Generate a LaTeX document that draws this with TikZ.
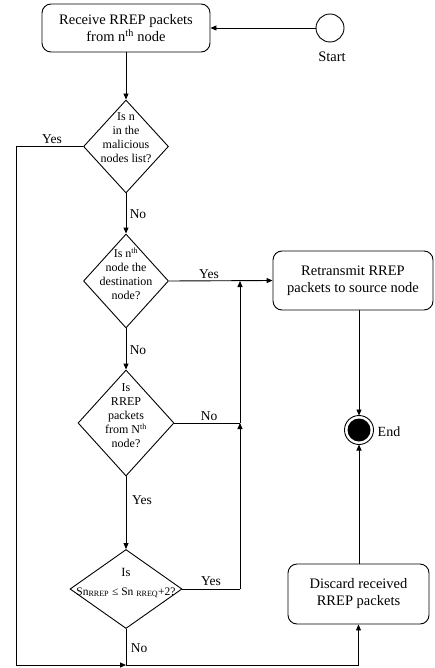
\documentclass[tikz,border=0pt]{standalone}
\usepackage{fontspec}
\setmainfont{Liberation Serif}
\usetikzlibrary{shapes.geometric,arrows.meta}
\begin{document}
\begin{tikzpicture}[x=1pt,y=-1pt,
  line width=0.9pt,
  arr/.style={-{Triangle[length=6pt,width=5pt]}},
  procbox/.style={draw,rounded corners=9pt,align=center,inner sep=0pt,
    font=\fontsize{14.5}{17}\selectfont},
  dia/.style={draw,diamond,inner sep=0pt},
  dtext/.style={align=center,inner sep=0pt,font=\fontsize{12}{14}\selectfont},
  lbl/.style={inner sep=0pt,font=\fontsize{13.5}{15}\selectfont}]
\useasboundingbox (0,0) rectangle (434,668);

% process boxes
\node[procbox,minimum width=168pt,minimum height=48pt] (recv) at (126,28)
  {Receive RREP packets\\from n\textsuperscript{th} node};
\node[procbox,minimum width=160pt,minimum height=59pt] (ret) at (353,280.5)
  {Retransmit RREP\\packets to source node};
\node[procbox,minimum width=141pt,minimum height=60pt] (disc) at (358.5,594)
  {Discard received\\RREP packets};

% start / end
\node[draw,circle,minimum size=28pt,inner sep=0pt] (start) at (330,28) {};
\node[lbl,font=\fontsize{14.5}{16}\selectfont] (startl) at (332,57) {Start};
\node[draw,circle,minimum size=29pt,inner sep=0pt] (end) at (359,430) {};
\node[circle,fill=black,minimum size=23pt,inner sep=0pt] (endin) at (359,430) {};
\node[lbl,font=\fontsize{14}{16}\selectfont] (endl) at (389,432) {End};

% decisions
\node[dia,minimum width=85pt,minimum height=93pt] (d1) at (126,146.5) {};
\node[dtext] (d1t) at (126,138) {Is n\\in the\\malicious\\nodes list?};
\node[dia,minimum width=85pt,minimum height=94pt] (d2) at (126,281) {};
\node[dtext] (d2t) at (126,274) {Is n\textsuperscript{th}\\node the\\destination\\node?};
\node[dia,minimum width=96pt,minimum height=106pt] (d3) at (126,423) {};
\node[dtext] (d3t) at (126,416) {Is\\RREP\\packets\\from N\textsuperscript{th}\\node?};
\node[dia,minimum width=112pt,minimum height=79pt] (d4) at (126,589) {};
\node[dtext,font=\fontsize{12.5}{19}\selectfont] (d4t) at (126,583)
  {Is\\{\fontsize{11.5}{12}\selectfont Sn\textsubscript{RREP} ≤ Sn \textsubscript{RREQ}+2?}};

% helper coordinates
\coordinate (lft) at (16,665);
\coordinate (j) at (126,665);
\coordinate (jr) at (358.5,665);
\coordinate (m2) at (240,281);
\coordinate (m3) at (240,423);
\coordinate (m4) at (240,589);
\coordinate (rb) at (359,310);
\coordinate (et) at (359,415.5);
\coordinate (eb) at (359,444.5);
\coordinate (dt) at (359,564);

% connectors
\draw[arr] (start.west) -- (recv.east);
\draw[arr] (recv.south) -- (d1.north);
\draw[arr] (d1.west) -| (lft) -- (j);
\draw[arr] (d1.south) -- (d2.north);
\draw[arr] (d2.east) -- (ret.west);
\draw[arr] (d2.south) -- (d3.north);
\draw (d3.east) -- (m3);
\draw[arr] (m3) -- (m2);
\draw[arr] (d3.south) -- (d4.north);
\draw (d4.east) -- (m4);
\draw[arr] (m4) -- (m3);
\draw (d4.south) -- (j);
\draw[arr] (j) -- (jr) -- (disc.south);
\draw[arr] (rb) -- (et);
\draw[arr] (dt) -- (eb);

% labels
\node[lbl] (l1) at (52,139) {Yes};
\node[lbl] (l2) at (138,214) {No};
\node[lbl] (l3) at (209,274) {Yes};
\node[lbl] (l4) at (138,350) {No};
\node[lbl] (l5) at (209,416) {No};
\node[lbl] (l6) at (142,500) {Yes};
\node[lbl] (l7) at (211,581) {Yes};
\node[lbl] (l8) at (139,648) {No};
\end{tikzpicture}
\end{document}
